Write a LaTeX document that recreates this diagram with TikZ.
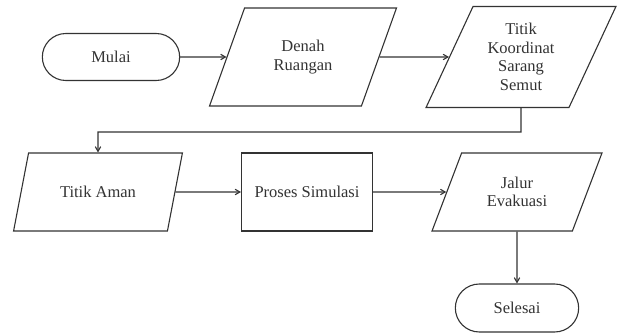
\documentclass[tikz,border=0pt]{standalone}
\usepackage{fontspec}
\setmainfont{Liberation Serif}
\usetikzlibrary{shapes,arrows,positioning,calc}
\tikzset{
term/.style = {draw, fill=white, rounded rectangle, minimum height=47pt, minimum width=144pt},
io/.style   = {draw, fill=white, trapezium, trapezium left angle=64, trapezium right angle=116,
               trapezium stretches=true, align=center, minimum height=78pt, minimum width=170pt},
proc/.style = {draw, fill=white, rectangle, minimum height=78pt, minimum width=131pt},
tmp/.style  = {coordinate}
}

\begin{document}
\begin{tikzpicture}[auto, node distance=192pt, >=angle 60, color=black!80, line width=1.1pt,
  font=\fontsize{16.5}{18.5}\selectfont]
  \useasboundingbox (0,0) rectangle (621pt,-334pt);
  \node [term] at (111pt,-57pt)                                          (mulai)   {Mulai};
  \node [io, right of=mulai, minimum width=187pt, minimum height=98pt]   (denah)   {Denah\\Ruangan};
  \node [io, right of=denah, node distance=218pt, minimum width=190pt, minimum height=101pt]
                                                                         (koord)   {Titik\\Koordinat\\Sarang\\Semut};
  \node [tmp, below of=koord, node distance=75pt]                        (tmp1)    {};
  \node [io, below of=mulai, node distance=135pt, xshift=-13pt]          (aman)    {Titik Aman};
  \node [proc, right of=aman, node distance=209pt]                       (proses)  {Proses Simulasi};
  \node [io, right of=proses, node distance=210pt]                       (jalur)   {Jalur\\Evakuasi};
  \node [term, below of=jalur, node distance=116pt, minimum width=130pt, minimum height=48pt]
                                                                         (selesai) {Selesai};

  \draw [->] (mulai) -- (denah);
  \draw [->] (denah) -- (koord);
  \draw [->] (koord.south) -- (tmp1) -| (aman.north);
  \draw [->] (aman) -- (proses);
  \draw [->] (proses) -- (jalur);
  \draw [->] (jalur) -- (selesai);
\end{tikzpicture}
\end{document}
